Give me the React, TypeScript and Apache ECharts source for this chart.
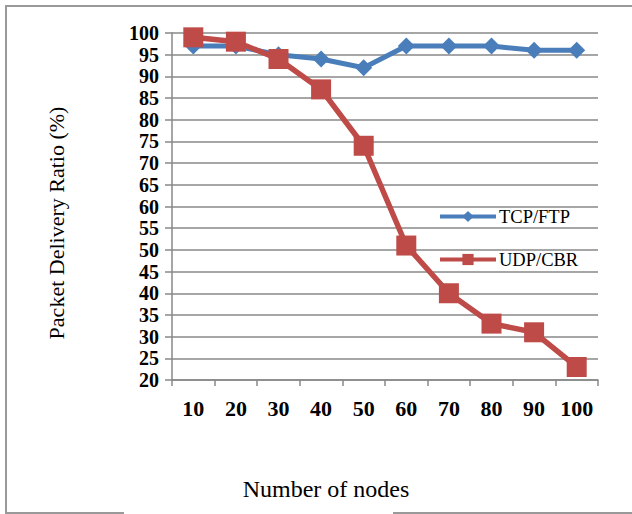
import React, { useEffect, useRef } from "react";
import * as echarts from "echarts";

const categories = ["10", "20", "30", "40", "50", "60", "70", "80", "90", "100"];
const tcpFtp = [97, 97, 95, 94, 92, 97, 97, 97, 96, 96];
const udpCbr = [99, 98, 94, 87, 74, 51, 40, 33, 31, 23];
const seriesNames = ["TCP/FTP", "UDP/CBR"];
const yTitle = "Packet Delivery Ratio (%)";
const xTitle = "Number of nodes";

const FONT = "'Liberation Serif', 'Times New Roman', serif";

export default function App() {
  const ref = useRef<HTMLDivElement>(null);
  useEffect(() => {
    document.body.style.margin = "0";
    const chart = echarts.init(ref.current!, null, { renderer: "svg" });
    const border = "#999999";
    chart.setOption({
      animation: false,
      backgroundColor: "#ffffff",
      grid: { left: 172, right: 34, top: 33, bottom: 134, containLabel: false },
      legend: {
        orient: "vertical",
        left: 433,
        top: 202,
        itemGap: 24,
        itemWidth: 56,
        itemHeight: 14,
        lineStyle: { width: 4 },
        textStyle: { fontFamily: FONT, fontSize: 18.5, color: "#000", padding: [0, 0, 0, -2] },
        data: seriesNames,
      },
      xAxis: {
        type: "category",
        data: categories,
        boundaryGap: true,
        axisLine: { lineStyle: { color: "#888", width: 1.5 } },
        axisTick: { show: true, length: 6, alignWithLabel: false, interval: 0, lineStyle: { color: "#888", width: 1.5 } },
        axisLabel: {
          interval: 0,
          hideOverlap: false,
          fontFamily: FONT,
          fontSize: 22,
          fontWeight: "bold",
          color: "#000",
          margin: 17,
        },
        splitLine: { show: false },
      },
      yAxis: {
        type: "value",
        min: 20,
        max: 100,
        interval: 5,
        axisLine: { show: true, lineStyle: { color: "#888", width: 1.5 } },
        axisTick: { show: true, length: 7, lineStyle: { color: "#888", width: 1.5 } },
        axisLabel: {
          fontFamily: FONT,
          fontSize: 20,
          lineHeight: 20,
          fontWeight: "bold",
          color: "#000",
          margin: 13,
          hideOverlap: false,
        },
        splitLine: { show: true, lineStyle: { color: "#888", width: 1.5 } },
      },
      series: [
        {
          name: seriesNames[0],
          type: "line",
          data: tcpFtp,
          symbol: "diamond",
          symbolSize: 17,
          lineStyle: { color: "#4A7EBB", width: 5 },
          itemStyle: { color: "#4A7EBB" },
          z: 2,
        },
        {
          name: seriesNames[1],
          type: "line",
          data: udpCbr,
          symbol: "rect",
          symbolSize: 20,
          lineStyle: { color: "#BE4B48", width: 5.5 },
          itemStyle: { color: "#BE4B48" },
          z: 3,
        },
      ],
      graphic: [
        { type: "line", shape: { x1: 6, y1: 6, x2: 632, y2: 6 }, style: { stroke: border, lineWidth: 2 } },
        { type: "line", shape: { x1: 6, y1: 5, x2: 6, y2: 514 }, style: { stroke: border, lineWidth: 2 } },
        { type: "line", shape: { x1: 6, y1: 513, x2: 124, y2: 513 }, style: { stroke: border, lineWidth: 2 } },
        { type: "line", shape: { x1: 393, y1: 513, x2: 632, y2: 513 }, style: { stroke: border, lineWidth: 2 } },
        {
          type: "text",
          x: 56,
          y: 223,
          rotation: Math.PI / 2,
          style: {
            text: yTitle,
            font: `22px ${FONT}`,
            fill: "#000",
            align: "center",
            verticalAlign: "middle",
          },
        },
        {
          type: "text",
          x: 326,
          y: 489,
          style: {
            text: xTitle,
            font: `24px ${FONT}`,
            fill: "#000",
            align: "center",
            verticalAlign: "middle",
          },
        },
      ],
    });
    return () => chart.dispose();
  }, []);
  return <div ref={ref} style={{ position: "absolute", left: 0, top: 0, width: 632, height: 514 }} />;
}
